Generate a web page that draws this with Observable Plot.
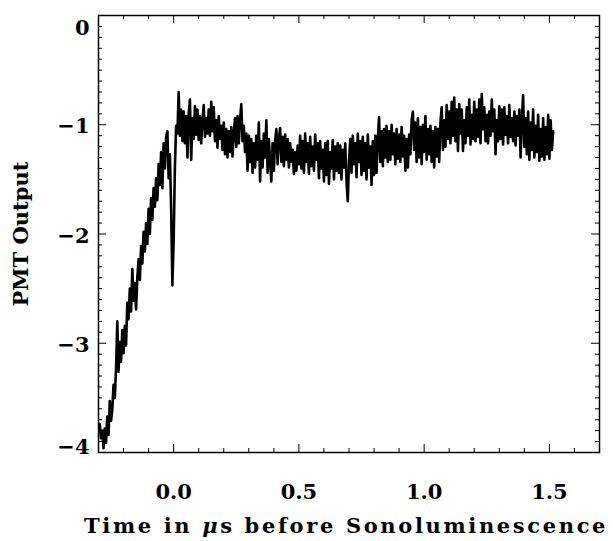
<!DOCTYPE html>
<html>
<head>
<meta charset="utf-8">
<script src="https://cdn.jsdelivr.net/npm/d3@7"></script>
<script src="https://cdn.jsdelivr.net/npm/@observablehq/plot@0.6"></script>
<style>
  html, body { margin: 0; padding: 0; background: #fff; }
  #chart svg { display: block; }
</style>
</head>
<body>
<div id="chart"></div>
<script>
// ---- Data ----
// Oscilloscope sampling: first sample time and interval, in µs
const t0 = -0.295;
const dt = 0.005;

// PMT output, t = -0.295 .. 0.000 µs (rise + dip just before 0)
const pmtRise = [
  -3.74, -3.87, -3.80, -3.96, -3.78, -3.91, -3.67, -3.84, -3.53, -3.71,
  -3.61, -3.38, -3.50, -3.24, -2.80, -3.26, -2.99, -3.17, -2.88, -3.09,
  -2.84, -3.02, -2.63, -2.78, -2.50, -2.71, -2.32, -2.61, -2.45, -2.69,
  -2.40, -2.23, -2.42, -2.11, -2.27, -1.98, -2.16, -1.90, -2.09, -1.77,
  -2.00, -1.67, -1.87, -1.58, -1.75, -1.49, -1.69, -1.36, -1.55, -1.25,
  -1.58, -1.17, -1.40, -1.11, -1.06, -1.49, -1.27, -1.78, -2.47, -2.06
];
// PMT output, t = 0.005 .. 0.500 µs
const pmtEarly = [
  -1.39, -1.01, -1.08, -0.70, -1.10, -0.86, -1.15, -0.88, -1.17, -0.92,
  -1.30, -0.90, -0.77, -1.32, -0.94, -1.13, -0.83, -1.09, -0.86, -1.14,
  -0.92, -1.17, -0.96, -0.82, -1.11, -0.94, -1.08, -0.86, -1.10, -0.79,
  -1.06, -0.84, -1.15, -0.96, -1.21, -0.92, -1.13, -1.01, -1.23, -0.98,
  -1.27, -1.04, -1.30, -1.06, -1.25, -1.02, -1.29, -1.08, -0.94, -1.20,
  -0.92, -1.17, -0.96, -0.81, -1.15, -1.01, -1.25, -1.08, -1.42, -1.10,
  -1.34, -1.13, -1.44, -1.17, -1.39, -1.10, -1.32, -0.98, -1.52, -1.15,
  -1.39, -1.08, -1.30, -0.96, -1.44, -1.13, -1.34, -1.52, -1.17, -1.42,
  -1.15, -1.04, -1.36, -1.13, -1.03, -1.34, -1.11, -1.38, -1.09, -1.32,
  -1.13, -1.39, -1.17, -1.34, -1.23, -1.45, -1.25, -1.42, -1.19, -1.36
];
// PMT output, t = 0.505 .. 1.000 µs
const pmtMid = [
  -1.10, -1.40, -1.15, -1.44, -1.08, -1.34, -1.17, -1.45, -1.11, -1.38,
  -1.20, -1.42, -1.09, -1.32, -1.17, -1.49, -1.15, -1.40, -1.23, -1.52,
  -1.17, -1.46, -1.15, -1.54, -1.25, -1.40, -1.14, -1.50, -1.20, -1.42,
  -1.17, -1.44, -1.19, -1.50, -1.23, -1.39, -1.17, -1.52, -1.70, -1.34,
  -1.13, -1.44, -1.10, -1.36, -1.17, -1.48, -1.08, -1.34, -1.15, -1.46,
  -1.11, -1.42, -1.17, -1.50, -1.09, -1.39, -1.20, -1.55, -1.15, -1.46,
  -1.10, -1.44, -1.13, -0.93, -1.34, -1.06, -1.38, -1.04, -1.30, -1.01,
  -1.34, -1.06, -1.32, -1.00, -1.27, -1.08, -1.36, -1.04, -1.31, -1.09,
  -1.34, -1.02, -1.29, -1.10, -1.42, -1.13, -1.39, -1.09, -1.27, -0.96,
  -0.88, -1.23, -0.98, -1.34, -0.94, -1.30, -1.02, -1.36, -1.00, -1.25
];
// PMT output, t = 1.005 .. 1.515 µs
const pmtLate = [
  -0.92, -1.32, -1.04, -1.27, -1.01, -1.34, -1.06, -1.39, -1.02, -1.29,
  -1.04, -1.34, -0.98, -0.84, -1.23, -0.96, -1.20, -0.82, -1.13, -0.88,
  -1.17, -0.79, -1.10, -0.75, -1.15, -0.86, -1.24, -0.81, -1.08, -0.86,
  -1.24, -0.96, -1.17, -0.84, -1.10, -0.77, -1.18, -0.91, -1.13, -0.79,
  -1.15, -0.86, -1.11, -0.77, -1.17, -0.72, -1.04, -0.84, -1.15, -0.91,
  -1.17, -0.88, -1.10, -0.77, -1.06, -0.86, -1.27, -0.96, -1.15, -0.83,
  -1.13, -0.86, -1.18, -0.84, -1.09, -0.92, -1.17, -0.82, -1.11, -0.94,
  -1.15, -0.88, -1.19, -0.92, -1.10, -0.86, -1.30, -0.96, -0.73, -1.20,
  -0.94, -1.27, -0.88, -1.32, -0.98, -1.23, -0.86, -1.30, -1.01, -1.25,
  -0.91, -1.33, -1.04, -1.29, -0.94, -1.32, -1.02, -1.27, -0.91, -1.31,
  -0.96, -1.23, -1.06
];

// Axis ticks and labels
const xMajor = [0.0, 0.5, 1.0, 1.5];
const xTickLabels = ["0.0", "0.5", "1.0", "1.5"];
const xMinor = [-0.2, -0.1, 0.1, 0.2, 0.3, 0.4, 0.6, 0.7, 0.8, 0.9, 1.1, 1.2, 1.3, 1.4, 1.6];
const yMajor = [0, -1, -2, -3, -4];
const yTickLabels = ["0", "\u22121", "\u22122", "\u22123", "\u22124"];
const yMinor = [
  -0.1, -0.2, -0.3, -0.4, -0.5, -0.6, -0.7, -0.8, -0.9,
  -1.1, -1.2, -1.3, -1.4, -1.5, -1.6, -1.7, -1.8, -1.9,
  -2.1, -2.2, -2.3, -2.4, -2.5, -2.6, -2.7, -2.8, -2.9,
  -3.1, -3.2, -3.3, -3.4, -3.5, -3.6, -3.7, -3.8, -3.9
];
const xTitlePre = "Time in ";
const xTitleMu = "\u03bc";
const xTitlePost = "s before Sonoluminescence";
const yTitle = "PMT Output";

// ---- Build table ----
const samples = [...pmtRise, ...pmtEarly, ...pmtMid, ...pmtLate]
  .map((v, i) => ({t: t0 + i * dt, v}));

// ---- Layout ----
const W = 613, H = 541;
const mL = 98, mR = 14, mT = 15, mB = 89;
const fw = W - mL - mR, fh = H - mT - mB;
const fontFamily = "'DejaVu Serif', 'Liberation Serif', serif";
const font = {fontFamily, fontWeight: "bold", fontSize: 21};
const yLab = d => yTickLabels[yMajor.indexOf(d)];

const chart = Plot.plot({
  width: W, height: H,
  marginLeft: mL, marginRight: mR, marginTop: mT, marginBottom: mB,
  x: {domain: [-0.3, 1.7]},
  y: {domain: [-4, 0]},
  style: {background: "white", color: "black", overflow: "visible"},
  marks: [
    Plot.line(samples, {x: "t", y: "v", stroke: "black", strokeWidth: 2.6, strokeLinejoin: "round"}),
    // inward ticks on all four sides
    Plot.tickX(xMajor, {x: d => d, insetTop: fh - 8, stroke: "black"}),
    Plot.tickX(xMajor, {x: d => d, insetBottom: fh - 8, stroke: "black"}),
    Plot.tickX(xMinor, {x: d => d, insetTop: fh - 4, stroke: "black"}),
    Plot.tickX(xMinor, {x: d => d, insetBottom: fh - 4, stroke: "black"}),
    Plot.tickY(yMajor, {y: d => d, insetRight: fw - 8, stroke: "black"}),
    Plot.tickY(yMajor, {y: d => d, insetLeft: fw - 8, stroke: "black"}),
    Plot.tickY(yMinor, {y: d => d, insetRight: fw - 4, stroke: "black"}),
    Plot.tickY(yMinor, {y: d => d, insetLeft: fw - 4, stroke: "black"}),
    Plot.frame({stroke: "black", strokeWidth: 1.5}),
    Plot.axisX(xMajor, {
      tickSize: 0, tickPadding: 32, label: null,
      tickFormat: d => xTickLabels[xMajor.indexOf(d)], ...font
    }),
    Plot.axisY([-1, -2, -3], {tickSize: 0, tickPadding: 9, label: null, tickFormat: yLab, dy: 2, ...font}),
    Plot.axisY([0], {tickSize: 0, tickPadding: 9, label: null, tickFormat: yLab, dy: 13, ...font}),
    Plot.axisY([-4], {tickSize: 0, tickPadding: 9, label: null, tickFormat: yLab, dy: -5, ...font})
  ]
});

document.getElementById("chart").append(chart);

// ---- Axis titles ----
const svg = d3.select(chart);
const xt = svg.append("text")
  .attr("x", 84).attr("y", 533)
  .attr("text-anchor", "start")
  .attr("font-family", fontFamily).attr("font-weight", "bold").attr("font-size", 21)
  .attr("fill", "black");
xt.append("tspan").text(xTitlePre);
xt.append("tspan").attr("font-style", "italic").text(xTitleMu);
xt.append("tspan").text(xTitlePost);
{
  const nChars = (xTitlePre + xTitleMu + xTitlePost).length;
  const w = xt.node().getComputedTextLength();
  const target = 524;
  xt.attr("letter-spacing", ((target - w) / nChars).toFixed(2));
}

svg.append("text")
  .attr("transform", "translate(28,234) rotate(-90)")
  .attr("text-anchor", "middle")
  .attr("font-family", fontFamily).attr("font-weight", "bold").attr("font-size", 21)
  .attr("fill", "black")
  .text(yTitle);
</script>
</body>
</html>
